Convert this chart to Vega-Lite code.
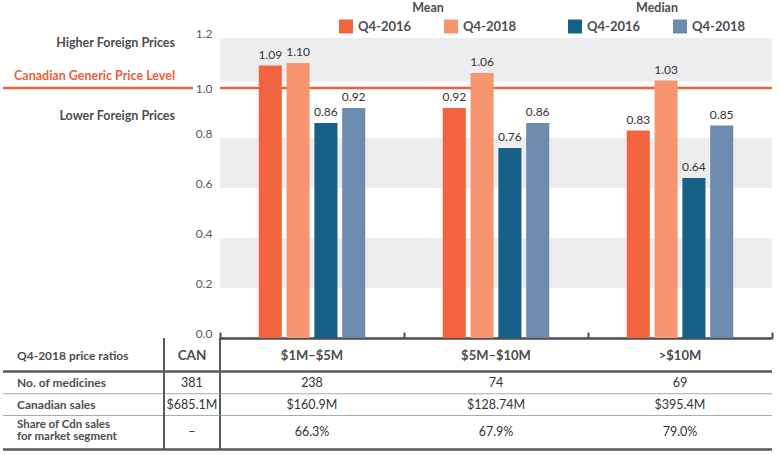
{
  "$schema": "https://vega.github.io/schema/vega-lite/v6.json",
  "width": 552,
  "height": 412,
  "autosize": "none",
  "padding": {"left": 220, "top": 38, "right": 9, "bottom": 5},
  "background": "white",
  "config": {"view": {"stroke": null}, "font": "Lato", "text": {"font": "Lato"}},
  "datasets": {
    "bars": [
      {"segment": "$1M–$5M", "stat": "Mean", "period": "Q4-2016", "series": "Mean Q4-2016", "value": 1.09},
      {"segment": "$1M–$5M", "stat": "Mean", "period": "Q4-2018", "series": "Mean Q4-2018", "value": 1.10},
      {"segment": "$1M–$5M", "stat": "Median", "period": "Q4-2016", "series": "Median Q4-2016", "value": 0.86},
      {"segment": "$1M–$5M", "stat": "Median", "period": "Q4-2018", "series": "Median Q4-2018", "value": 0.92},
      {"segment": "$5M–$10M", "stat": "Mean", "period": "Q4-2016", "series": "Mean Q4-2016", "value": 0.92},
      {"segment": "$5M–$10M", "stat": "Mean", "period": "Q4-2018", "series": "Mean Q4-2018", "value": 1.06},
      {"segment": "$5M–$10M", "stat": "Median", "period": "Q4-2016", "series": "Median Q4-2016", "value": 0.76},
      {"segment": "$5M–$10M", "stat": "Median", "period": "Q4-2018", "series": "Median Q4-2018", "value": 0.86},
      {"segment": ">$10M", "stat": "Mean", "period": "Q4-2016", "series": "Mean Q4-2016", "value": 0.83},
      {"segment": ">$10M", "stat": "Mean", "period": "Q4-2018", "series": "Mean Q4-2018", "value": 1.03},
      {"segment": ">$10M", "stat": "Median", "period": "Q4-2016", "series": "Median Q4-2016", "value": 0.64},
      {"segment": ">$10M", "stat": "Median", "period": "Q4-2018", "series": "Median Q4-2018", "value": 0.85}
    ],
    "bands": [{"lo": 0.2, "hi": 0.4}, {"lo": 0.6, "hi": 0.8}, {"lo": 1.025, "hi": 1.2}],
    "reference": [{"level": 1.0}],
    "annotations": [
      {"label": "Higher Foreign Prices", "kind": "above"},
      {"label": "Canadian Generic Price Level", "kind": "level"},
      {"label": "Lower Foreign Prices", "kind": "below"}
    ],
    "table": [
      {"row": "Q4-2018 price ratios", "column": "label", "text": "Q4-2018 price ratios"},
      {"row": "Q4-2018 price ratios", "column": "CAN", "text": "CAN"},
      {"row": "Q4-2018 price ratios", "column": "$1M–$5M", "text": "$1M–$5M"},
      {"row": "Q4-2018 price ratios", "column": "$5M–$10M", "text": "$5M–$10M"},
      {"row": "Q4-2018 price ratios", "column": ">$10M", "text": ">$10M"},
      {"row": "No. of medicines", "column": "label", "text": "No. of medicines"},
      {"row": "No. of medicines", "column": "CAN", "text": "381"},
      {"row": "No. of medicines", "column": "$1M–$5M", "text": "238"},
      {"row": "No. of medicines", "column": "$5M–$10M", "text": "74"},
      {"row": "No. of medicines", "column": ">$10M", "text": "69"},
      {"row": "Canadian sales", "column": "label", "text": "Canadian sales"},
      {"row": "Canadian sales", "column": "CAN", "text": "$685.1M"},
      {"row": "Canadian sales", "column": "$1M–$5M", "text": "$160.9M"},
      {"row": "Canadian sales", "column": "$5M–$10M", "text": "$128.74M"},
      {"row": "Canadian sales", "column": ">$10M", "text": "$395.4M"},
      {"row": "Share of Cdn sales\nfor market segment", "column": "label", "text": "Share of Cdn sales\nfor market segment"},
      {"row": "Share of Cdn sales\nfor market segment", "column": "CAN", "text": "–"},
      {"row": "Share of Cdn sales\nfor market segment", "column": "$1M–$5M", "text": "66.3%"},
      {"row": "Share of Cdn sales\nfor market segment", "column": "$5M–$10M", "text": "67.9%"},
      {"row": "Share of Cdn sales\nfor market segment", "column": ">$10M", "text": "79.0%"}
    ],
    "rules": [
      {"row": "No. of medicines", "edge": "top", "weight": "heavy"},
      {"row": "Canadian sales", "edge": "top", "weight": "light"},
      {"row": "Canadian sales", "edge": "bottom", "weight": "light"},
      {"row": "Share of Cdn sales\nfor market segment", "edge": "bottom", "weight": "heavy"}
    ]
  },
  "layer": [
    {
      "data": {"name": "bands"},
      "mark": {"type": "rect", "color": "#ededef"},
      "encoding": {
        "y": {"field": "lo", "type": "quantitative", "scale": {"domain": [-0.448, 1.2], "nice": false, "zero": false}, "axis": null},
        "y2": {"field": "hi"}
      }
    },
    {
      "data": {"name": "reference"},
      "mark": {"type": "rule", "color": "#E8603C", "strokeWidth": 2.5},
      "encoding": {
        "y": {"field": "level", "type": "quantitative", "scale": {"domain": [-0.448, 1.2], "nice": false, "zero": false},
          "axis": {"orient": "left", "values": [0, 0.2, 0.4, 0.6, 0.8, 1, 1.2], "format": ".1f", "domain": false, "ticks": false, "grid": false, "labelPadding": 8, "labelFontSize": 12, "labelColor": "#58595b", "labelOffset": {"condition": {"test": "datum.value == 1", "value": 0}, "value": -4.5}, "labelFont": "Lato", "title": null}}
      }
    },
    {
      "data": {"name": "bars"},
      "transform": [{"filter": "datum.stat == 'Mean'"}],
      "mark": {"type": "bar"},
      "encoding": {
        "x": {"field": "segment", "type": "nominal", "scale": {"type": "band", "domain": ["$1M–$5M", "$5M–$10M", ">$10M"], "paddingInner": 0.421, "paddingOuter": 0.2105}, "axis": null},
        "xOffset": {"field": "series", "type": "nominal", "scale": {"type": "band", "domain": ["Mean Q4-2016", "Mean Q4-2018", "Median Q4-2016", "Median Q4-2018"], "paddingInner": 0.17, "paddingOuter": 0}},
        "y": {"field": "value", "type": "quantitative", "scale": {"domain": [-0.448, 1.2], "nice": false, "zero": false}, "axis": null},
        "color": {"field": "period", "type": "nominal", "scale": {"domain": ["Q4-2016", "Q4-2018"], "range": ["#F26440", "#F7956F"]},
          "legend": {"title": "Mean", "orient": "none", "legendX": 119, "legendY": -36, "direction": "horizontal", "columns": 2, "columnPadding": 32, "symbolType": "square", "symbolSize": 196, "symbolStrokeWidth": 0, "labelFontSize": 13, "labelFontWeight": "bold", "labelColor": "#4d4d4f", "labelOffset": 5, "labelFont": "Lato", "titleFont": "Lato", "titleFontSize": 12.5, "titleFontWeight": "bold", "titleColor": "#4d4d4f", "titleAnchor": "middle", "titlePadding": 5, "padding": 0}}
      }
    },
    {
      "data": {"name": "bars"},
      "transform": [{"filter": "datum.stat == 'Median'"}],
      "mark": {"type": "bar"},
      "encoding": {
        "x": {"field": "segment", "type": "nominal", "scale": {"type": "band", "domain": ["$1M–$5M", "$5M–$10M", ">$10M"], "paddingInner": 0.421, "paddingOuter": 0.2105}, "axis": null},
        "xOffset": {"field": "series", "type": "nominal", "scale": {"type": "band", "domain": ["Mean Q4-2016", "Mean Q4-2018", "Median Q4-2016", "Median Q4-2018"], "paddingInner": 0.17, "paddingOuter": 0}},
        "y": {"field": "value", "type": "quantitative", "scale": {"domain": [-0.448, 1.2], "nice": false, "zero": false}, "axis": null},
        "color": {"field": "period", "type": "nominal", "scale": {"domain": ["Q4-2016", "Q4-2018"], "range": ["#176088", "#6D8AAF"]},
          "legend": {"title": "Median", "orient": "none", "legendX": 348, "legendY": -36, "direction": "horizontal", "columns": 2, "columnPadding": 32, "symbolType": "square", "symbolSize": 196, "symbolStrokeWidth": 0, "labelFontSize": 13, "labelFontWeight": "bold", "labelColor": "#4d4d4f", "labelOffset": 5, "labelFont": "Lato", "titleFont": "Lato", "titleFontSize": 12.5, "titleFontWeight": "bold", "titleColor": "#4d4d4f", "titleAnchor": "middle", "titlePadding": 5, "padding": 0}}
      }
    },
    {
      "data": {"name": "bars"},
      "mark": {"type": "text", "baseline": "bottom", "dy": -4, "fontSize": 12, "color": "#333333"},
      "encoding": {
        "x": {"field": "segment", "type": "nominal", "scale": {"type": "band", "domain": ["$1M–$5M", "$5M–$10M", ">$10M"], "paddingInner": 0.421, "paddingOuter": 0.2105}, "axis": null},
        "xOffset": {"field": "series", "type": "nominal", "scale": {"type": "band", "domain": ["Mean Q4-2016", "Mean Q4-2018", "Median Q4-2016", "Median Q4-2018"], "paddingInner": 0.17, "paddingOuter": 0}},
        "y": {"field": "value", "type": "quantitative", "scale": {"domain": [-0.448, 1.2], "nice": false, "zero": false}, "axis": null},
        "text": {"field": "value", "type": "quantitative", "format": ".2f"}
      }
    },
    {
      "data": {"name": "reference"},
      "mark": {"type": "rule", "color": "#E8603C", "strokeWidth": 2.5},
      "encoding": {
        "x": {"datum": "label", "type": "nominal", "bandPosition": 0, "scale": {"type": "band", "domain": ["label", "CAN"], "range": [-217, -27], "paddingInner": 0, "paddingOuter": 0}, "axis": null},
        "x2": {"datum": "CAN", "bandPosition": 1},
        "y": {"field": "level", "type": "quantitative", "scale": {"domain": [-0.448, 1.2], "nice": false, "zero": false}, "axis": null}
      }
    },
    {
      "data": {"name": "annotations"},
      "transform": [{"filter": "datum.kind == 'above'"}],
      "mark": {"type": "text", "align": "right", "baseline": "alphabetic", "dx": -18, "dy": -41, "fontSize": 12.5, "fontWeight": "bold", "color": "#4d4d4f"},
      "encoding": {
        "x": {"datum": "CAN", "type": "nominal", "bandPosition": 1, "scale": {"type": "band", "domain": ["label", "CAN"], "range": [-217, -27], "paddingInner": 0, "paddingOuter": 0}, "axis": null},
        "y": {"datum": 1, "type": "quantitative", "scale": {"domain": [-0.448, 1.2], "nice": false, "zero": false}, "axis": null},
        "text": {"field": "label"}
      }
    },
    {
      "data": {"name": "annotations"},
      "transform": [{"filter": "datum.kind == 'level'"}],
      "mark": {"type": "text", "align": "right", "baseline": "alphabetic", "dx": -18, "dy": -8, "fontSize": 12.5, "fontWeight": "bold", "color": "#E8603C"},
      "encoding": {
        "x": {"datum": "CAN", "type": "nominal", "bandPosition": 1, "scale": {"type": "band", "domain": ["label", "CAN"], "range": [-217, -27], "paddingInner": 0, "paddingOuter": 0}, "axis": null},
        "y": {"datum": 1, "type": "quantitative", "scale": {"domain": [-0.448, 1.2], "nice": false, "zero": false}, "axis": null},
        "text": {"field": "label"}
      }
    },
    {
      "data": {"name": "annotations"},
      "transform": [{"filter": "datum.kind == 'below'"}],
      "mark": {"type": "text", "align": "right", "baseline": "alphabetic", "dx": -18, "dy": 32, "fontSize": 12.5, "fontWeight": "bold", "color": "#4d4d4f"},
      "encoding": {
        "x": {"datum": "CAN", "type": "nominal", "bandPosition": 1, "scale": {"type": "band", "domain": ["label", "CAN"], "range": [-217, -27], "paddingInner": 0, "paddingOuter": 0}, "axis": null},
        "y": {"datum": 1, "type": "quantitative", "scale": {"domain": [-0.448, 1.2], "nice": false, "zero": false}, "axis": null},
        "text": {"field": "label"}
      }
    },
    {
      "data": {"name": "table"},
      "transform": [{"filter": {"field": "column", "oneOf": ["$1M–$5M", "$5M–$10M", ">$10M"]}}, {"filter": "datum.row == 'Q4-2018 price ratios'"}],
      "mark": {"type": "text", "fontSize": 13, "fontWeight": "bold", "color": "#4d4d4f"},
      "encoding": {
        "x": {"field": "column", "type": "nominal", "scale": {"type": "band", "domain": ["$1M–$5M", "$5M–$10M", ">$10M"], "paddingInner": 0, "paddingOuter": 0},
          "axis": {"orient": "top", "offset": -300, "domainColor": "#4d4d4f", "domainWidth": 2.5, "ticks": true, "tickSize": 6, "tickWidth": 2, "tickColor": "#4d4d4f", "bandPosition": 1, "tickExtra": true, "labels": false, "grid": false, "title": null}},
        "y": {"field": "row", "type": "nominal", "bandPosition": 0.65, "scale": {"type": "band", "domain": ["Q4-2018 price ratios", "No. of medicines", "Canadian sales", "Share of Cdn sales\nfor market segment"], "range": [300, 411.5], "paddingInner": 0, "paddingOuter": 0}, "axis": null},
        "text": {"field": "text"}
      }
    },
    {
      "data": {"name": "table"},
      "transform": [{"filter": {"field": "column", "oneOf": ["$1M–$5M", "$5M–$10M", ">$10M"]}}, {"filter": "datum.row == 'No. of medicines'"}],
      "mark": {"type": "text", "fontSize": 12.5, "color": "#333333"},
      "encoding": {
        "x": {"field": "column", "type": "nominal", "scale": {"type": "band", "domain": ["$1M–$5M", "$5M–$10M", ">$10M"], "paddingInner": 0, "paddingOuter": 0}, "axis": null},
        "y": {"field": "row", "type": "nominal", "bandPosition": 0.61, "scale": {"type": "band", "domain": ["Q4-2018 price ratios", "No. of medicines", "Canadian sales", "Share of Cdn sales\nfor market segment"], "range": [300, 411.5], "paddingInner": 0, "paddingOuter": 0}, "axis": null},
        "text": {"field": "text"}
      }
    },
    {
      "data": {"name": "table"},
      "transform": [{"filter": {"field": "column", "oneOf": ["$1M–$5M", "$5M–$10M", ">$10M"]}}, {"filter": "datum.row == 'Canadian sales'"}],
      "mark": {"type": "text", "fontSize": 12.5, "color": "#333333"},
      "encoding": {
        "x": {"field": "column", "type": "nominal", "scale": {"type": "band", "domain": ["$1M–$5M", "$5M–$10M", ">$10M"], "paddingInner": 0, "paddingOuter": 0}, "axis": null},
        "y": {"field": "row", "type": "nominal", "bandPosition": 0.4, "scale": {"type": "band", "domain": ["Q4-2018 price ratios", "No. of medicines", "Canadian sales", "Share of Cdn sales\nfor market segment"], "range": [300, 411.5], "paddingInner": 0, "paddingOuter": 0}, "axis": null},
        "text": {"field": "text"}
      }
    },
    {
      "data": {"name": "table"},
      "transform": [{"filter": {"field": "column", "oneOf": ["$1M–$5M", "$5M–$10M", ">$10M"]}}, {"filter": "datum.row == 'Share of Cdn sales\\nfor market segment'"}],
      "mark": {"type": "text", "fontSize": 12.5, "color": "#333333"},
      "encoding": {
        "x": {"field": "column", "type": "nominal", "scale": {"type": "band", "domain": ["$1M–$5M", "$5M–$10M", ">$10M"], "paddingInner": 0, "paddingOuter": 0}, "axis": null},
        "y": {"field": "row", "type": "nominal", "bandPosition": 0.39, "scale": {"type": "band", "domain": ["Q4-2018 price ratios", "No. of medicines", "Canadian sales", "Share of Cdn sales\nfor market segment"], "range": [300, 411.5], "paddingInner": 0, "paddingOuter": 0}, "axis": null},
        "text": {"field": "text"}
      }
    },
    {
      "data": {"name": "rules"},
      "transform": [{"filter": "datum.edge == 'top' && datum.weight == 'heavy'"}],
      "mark": {"type": "rule", "color": "#58595b", "strokeWidth": 2.5},
      "encoding": {
        "y": {"field": "row", "type": "nominal", "bandPosition": 0.2, "scale": {"type": "band", "domain": ["Q4-2018 price ratios", "No. of medicines", "Canadian sales", "Share of Cdn sales\nfor market segment"], "range": [300, 411.5], "paddingInner": 0, "paddingOuter": 0}, "axis": null}
      }
    },
    {
      "data": {"name": "rules"},
      "transform": [{"filter": "datum.edge == 'top' && datum.weight == 'light'"}],
      "mark": {"type": "rule", "color": "#a7a9ac", "strokeWidth": 1},
      "encoding": {
        "y": {"field": "row", "type": "nominal", "bandPosition": 0, "scale": {"type": "band", "domain": ["Q4-2018 price ratios", "No. of medicines", "Canadian sales", "Share of Cdn sales\nfor market segment"], "range": [300, 411.5], "paddingInner": 0, "paddingOuter": 0}, "axis": null}
      }
    },
    {
      "data": {"name": "rules"},
      "transform": [{"filter": "datum.edge == 'bottom' && datum.weight == 'light'"}],
      "mark": {"type": "rule", "color": "#a7a9ac", "strokeWidth": 1},
      "encoding": {
        "y": {"field": "row", "type": "nominal", "bandPosition": 0.78, "scale": {"type": "band", "domain": ["Q4-2018 price ratios", "No. of medicines", "Canadian sales", "Share of Cdn sales\nfor market segment"], "range": [300, 411.5], "paddingInner": 0, "paddingOuter": 0}, "axis": null}
      }
    },
    {
      "data": {"name": "rules"},
      "transform": [{"filter": "datum.edge == 'bottom' && datum.weight == 'heavy'"}],
      "mark": {"type": "rule", "color": "#58595b", "strokeWidth": 2.5},
      "encoding": {
        "y": {"field": "row", "type": "nominal", "bandPosition": 1, "scale": {"type": "band", "domain": ["Q4-2018 price ratios", "No. of medicines", "Canadian sales", "Share of Cdn sales\nfor market segment"], "range": [300, 411.5], "paddingInner": 0, "paddingOuter": 0}, "axis": null}
      }
    },
    {
      "data": {"name": "reference"},
      "mark": {"type": "rule", "color": "#58595b", "strokeWidth": 2},
      "encoding": {
        "x": {"datum": "$1M–$5M", "type": "nominal", "bandPosition": 0, "scale": {"type": "band", "domain": ["$1M–$5M", "$5M–$10M", ">$10M"], "paddingInner": 0, "paddingOuter": 0}, "axis": null},
        "y": {"datum": "Q4-2018 price ratios", "type": "nominal", "bandPosition": 0, "scale": {"type": "band", "domain": ["Q4-2018 price ratios", "No. of medicines", "Canadian sales", "Share of Cdn sales\nfor market segment"], "range": [300, 411.5], "paddingInner": 0, "paddingOuter": 0}, "axis": null},
        "y2": {"datum": "Share of Cdn sales\nfor market segment", "bandPosition": 1}
      }
    },
    {
      "data": {"name": "table"},
      "transform": [{"filter": "datum.column == 'label' && datum.row == 'Q4-2018 price ratios'"}],
      "mark": {"type": "text", "align": "left", "dx": 14, "fontSize": 12, "fontWeight": "bold", "color": "#4d4d4f"},
      "encoding": {
        "x": {"field": "column", "type": "nominal", "bandPosition": 0, "scale": {"type": "band", "domain": ["label", "CAN"], "range": [-217, 0], "paddingInner": 0.652, "paddingOuter": 0}, "axis": null},
        "y": {"field": "row", "type": "nominal", "bandPosition": 0.65, "scale": {"type": "band", "domain": ["Q4-2018 price ratios", "No. of medicines", "Canadian sales", "Share of Cdn sales\nfor market segment"], "range": [300, 411.5], "paddingInner": 0, "paddingOuter": 0}, "axis": null},
        "text": {"field": "text"}
      }
    },
    {
      "data": {"name": "table"},
      "transform": [{"filter": "datum.column == 'label' && datum.row == 'No. of medicines'"}],
      "mark": {"type": "text", "align": "left", "dx": 14, "fontSize": 12, "fontWeight": "bold", "color": "#4d4d4f"},
      "encoding": {
        "x": {"field": "column", "type": "nominal", "bandPosition": 0, "scale": {"type": "band", "domain": ["label", "CAN"], "range": [-217, 0], "paddingInner": 0.652, "paddingOuter": 0}, "axis": null},
        "y": {"field": "row", "type": "nominal", "bandPosition": 0.61, "scale": {"type": "band", "domain": ["Q4-2018 price ratios", "No. of medicines", "Canadian sales", "Share of Cdn sales\nfor market segment"], "range": [300, 411.5], "paddingInner": 0, "paddingOuter": 0}, "axis": null},
        "text": {"field": "text"}
      }
    },
    {
      "data": {"name": "table"},
      "transform": [{"filter": "datum.column == 'label' && datum.row == 'Canadian sales'"}],
      "mark": {"type": "text", "align": "left", "dx": 14, "fontSize": 12, "fontWeight": "bold", "color": "#4d4d4f"},
      "encoding": {
        "x": {"field": "column", "type": "nominal", "bandPosition": 0, "scale": {"type": "band", "domain": ["label", "CAN"], "range": [-217, 0], "paddingInner": 0.652, "paddingOuter": 0}, "axis": null},
        "y": {"field": "row", "type": "nominal", "bandPosition": 0.4, "scale": {"type": "band", "domain": ["Q4-2018 price ratios", "No. of medicines", "Canadian sales", "Share of Cdn sales\nfor market segment"], "range": [300, 411.5], "paddingInner": 0, "paddingOuter": 0}, "axis": null},
        "text": {"field": "text"}
      }
    },
    {
      "data": {"name": "table"},
      "transform": [{"filter": "datum.column == 'label' && datum.row == 'Share of Cdn sales\\nfor market segment'"}],
      "mark": {"type": "text", "align": "left", "dx": 14, "dy": -7, "fontSize": 11.5, "fontWeight": "bold", "color": "#4d4d4f", "lineBreak": "\n", "lineHeight": 12},
      "encoding": {
        "x": {"field": "column", "type": "nominal", "bandPosition": 0, "scale": {"type": "band", "domain": ["label", "CAN"], "range": [-217, 0], "paddingInner": 0.652, "paddingOuter": 0}, "axis": null},
        "y": {"field": "row", "type": "nominal", "bandPosition": 0.39, "scale": {"type": "band", "domain": ["Q4-2018 price ratios", "No. of medicines", "Canadian sales", "Share of Cdn sales\nfor market segment"], "range": [300, 411.5], "paddingInner": 0, "paddingOuter": 0}, "axis": null},
        "text": {"field": "text"}
      }
    },
    {
      "data": {"name": "table"},
      "transform": [{"filter": "datum.column == 'CAN' && datum.row == 'Q4-2018 price ratios'"}],
      "mark": {"type": "text", "fontSize": 13.5, "fontWeight": "bold", "color": "#4d4d4f"},
      "encoding": {
        "x": {"field": "column", "type": "nominal", "scale": {"type": "band", "domain": ["label", "CAN"], "range": [-217, 0], "paddingInner": 0.652, "paddingOuter": 0}, "axis": null},
        "y": {"field": "row", "type": "nominal", "bandPosition": 0.65, "scale": {"type": "band", "domain": ["Q4-2018 price ratios", "No. of medicines", "Canadian sales", "Share of Cdn sales\nfor market segment"], "range": [300, 411.5], "paddingInner": 0, "paddingOuter": 0}, "axis": null},
        "text": {"field": "text"}
      }
    },
    {
      "data": {"name": "table"},
      "transform": [{"filter": "datum.column == 'CAN' && datum.row == 'No. of medicines'"}],
      "mark": {"type": "text", "fontSize": 12.5, "color": "#333333"},
      "encoding": {
        "x": {"field": "column", "type": "nominal", "scale": {"type": "band", "domain": ["label", "CAN"], "range": [-217, 0], "paddingInner": 0.652, "paddingOuter": 0}, "axis": null},
        "y": {"field": "row", "type": "nominal", "bandPosition": 0.61, "scale": {"type": "band", "domain": ["Q4-2018 price ratios", "No. of medicines", "Canadian sales", "Share of Cdn sales\nfor market segment"], "range": [300, 411.5], "paddingInner": 0, "paddingOuter": 0}, "axis": null},
        "text": {"field": "text"}
      }
    },
    {
      "data": {"name": "table"},
      "transform": [{"filter": "datum.column == 'CAN' && datum.row == 'Canadian sales'"}],
      "mark": {"type": "text", "fontSize": 12.5, "color": "#333333"},
      "encoding": {
        "x": {"field": "column", "type": "nominal", "scale": {"type": "band", "domain": ["label", "CAN"], "range": [-217, 0], "paddingInner": 0.652, "paddingOuter": 0}, "axis": null},
        "y": {"field": "row", "type": "nominal", "bandPosition": 0.4, "scale": {"type": "band", "domain": ["Q4-2018 price ratios", "No. of medicines", "Canadian sales", "Share of Cdn sales\nfor market segment"], "range": [300, 411.5], "paddingInner": 0, "paddingOuter": 0}, "axis": null},
        "text": {"field": "text"}
      }
    },
    {
      "data": {"name": "table"},
      "transform": [{"filter": "datum.column == 'CAN' && datum.row == 'Share of Cdn sales\\nfor market segment'"}],
      "mark": {"type": "text", "fontSize": 12.5, "color": "#333333"},
      "encoding": {
        "x": {"field": "column", "type": "nominal", "scale": {"type": "band", "domain": ["label", "CAN"], "range": [-217, 0], "paddingInner": 0.652, "paddingOuter": 0}, "axis": null},
        "y": {"field": "row", "type": "nominal", "bandPosition": 0.39, "scale": {"type": "band", "domain": ["Q4-2018 price ratios", "No. of medicines", "Canadian sales", "Share of Cdn sales\nfor market segment"], "range": [300, 411.5], "paddingInner": 0, "paddingOuter": 0}, "axis": null},
        "text": {"field": "text"}
      }
    },
    {
      "data": {"name": "rules"},
      "transform": [{"filter": "datum.edge == 'top' && datum.weight == 'heavy'"}],
      "mark": {"type": "rule", "color": "#58595b", "strokeWidth": 2.5},
      "encoding": {
        "x": {"datum": "label", "type": "nominal", "bandPosition": 0, "scale": {"type": "band", "domain": ["label", "CAN"], "range": [-217, 0], "paddingInner": 0.652, "paddingOuter": 0}, "axis": null},
        "x2": {"datum": "CAN", "bandPosition": 1},
        "y": {"field": "row", "type": "nominal", "bandPosition": 0.2, "scale": {"type": "band", "domain": ["Q4-2018 price ratios", "No. of medicines", "Canadian sales", "Share of Cdn sales\nfor market segment"], "range": [300, 411.5], "paddingInner": 0, "paddingOuter": 0}, "axis": null}
      }
    },
    {
      "data": {"name": "rules"},
      "transform": [{"filter": "datum.edge == 'top' && datum.weight == 'light'"}],
      "mark": {"type": "rule", "color": "#a7a9ac", "strokeWidth": 1},
      "encoding": {
        "x": {"datum": "label", "type": "nominal", "bandPosition": 0, "scale": {"type": "band", "domain": ["label", "CAN"], "range": [-217, 0], "paddingInner": 0.652, "paddingOuter": 0}, "axis": null},
        "x2": {"datum": "CAN", "bandPosition": 1},
        "y": {"field": "row", "type": "nominal", "bandPosition": 0, "scale": {"type": "band", "domain": ["Q4-2018 price ratios", "No. of medicines", "Canadian sales", "Share of Cdn sales\nfor market segment"], "range": [300, 411.5], "paddingInner": 0, "paddingOuter": 0}, "axis": null}
      }
    },
    {
      "data": {"name": "rules"},
      "transform": [{"filter": "datum.edge == 'bottom' && datum.weight == 'light'"}],
      "mark": {"type": "rule", "color": "#a7a9ac", "strokeWidth": 1},
      "encoding": {
        "x": {"datum": "label", "type": "nominal", "bandPosition": 0, "scale": {"type": "band", "domain": ["label", "CAN"], "range": [-217, 0], "paddingInner": 0.652, "paddingOuter": 0}, "axis": null},
        "x2": {"datum": "CAN", "bandPosition": 1},
        "y": {"field": "row", "type": "nominal", "bandPosition": 0.78, "scale": {"type": "band", "domain": ["Q4-2018 price ratios", "No. of medicines", "Canadian sales", "Share of Cdn sales\nfor market segment"], "range": [300, 411.5], "paddingInner": 0, "paddingOuter": 0}, "axis": null}
      }
    },
    {
      "data": {"name": "rules"},
      "transform": [{"filter": "datum.edge == 'bottom' && datum.weight == 'heavy'"}],
      "mark": {"type": "rule", "color": "#58595b", "strokeWidth": 2.5},
      "encoding": {
        "x": {"datum": "label", "type": "nominal", "bandPosition": 0, "scale": {"type": "band", "domain": ["label", "CAN"], "range": [-217, 0], "paddingInner": 0.652, "paddingOuter": 0}, "axis": null},
        "x2": {"datum": "CAN", "bandPosition": 1},
        "y": {"field": "row", "type": "nominal", "bandPosition": 1, "scale": {"type": "band", "domain": ["Q4-2018 price ratios", "No. of medicines", "Canadian sales", "Share of Cdn sales\nfor market segment"], "range": [300, 411.5], "paddingInner": 0, "paddingOuter": 0}, "axis": null}
      }
    },
    {
      "data": {"name": "reference"},
      "mark": {"type": "rule", "color": "#58595b", "strokeWidth": 2},
      "encoding": {
        "x": {"datum": "CAN", "type": "nominal", "bandPosition": 0, "scale": {"type": "band", "domain": ["label", "CAN"], "range": [-217, 0], "paddingInner": 0.652, "paddingOuter": 0}, "axis": null},
        "y": {"datum": "Q4-2018 price ratios", "type": "nominal", "bandPosition": 0, "scale": {"type": "band", "domain": ["Q4-2018 price ratios", "No. of medicines", "Canadian sales", "Share of Cdn sales\nfor market segment"], "range": [300, 411.5], "paddingInner": 0, "paddingOuter": 0}, "axis": null},
        "y2": {"datum": "Share of Cdn sales\nfor market segment", "bandPosition": 1}
      }
    }
  ],
  "resolve": {"scale": {"x": "independent", "y": "independent", "color": "independent"}}
}
